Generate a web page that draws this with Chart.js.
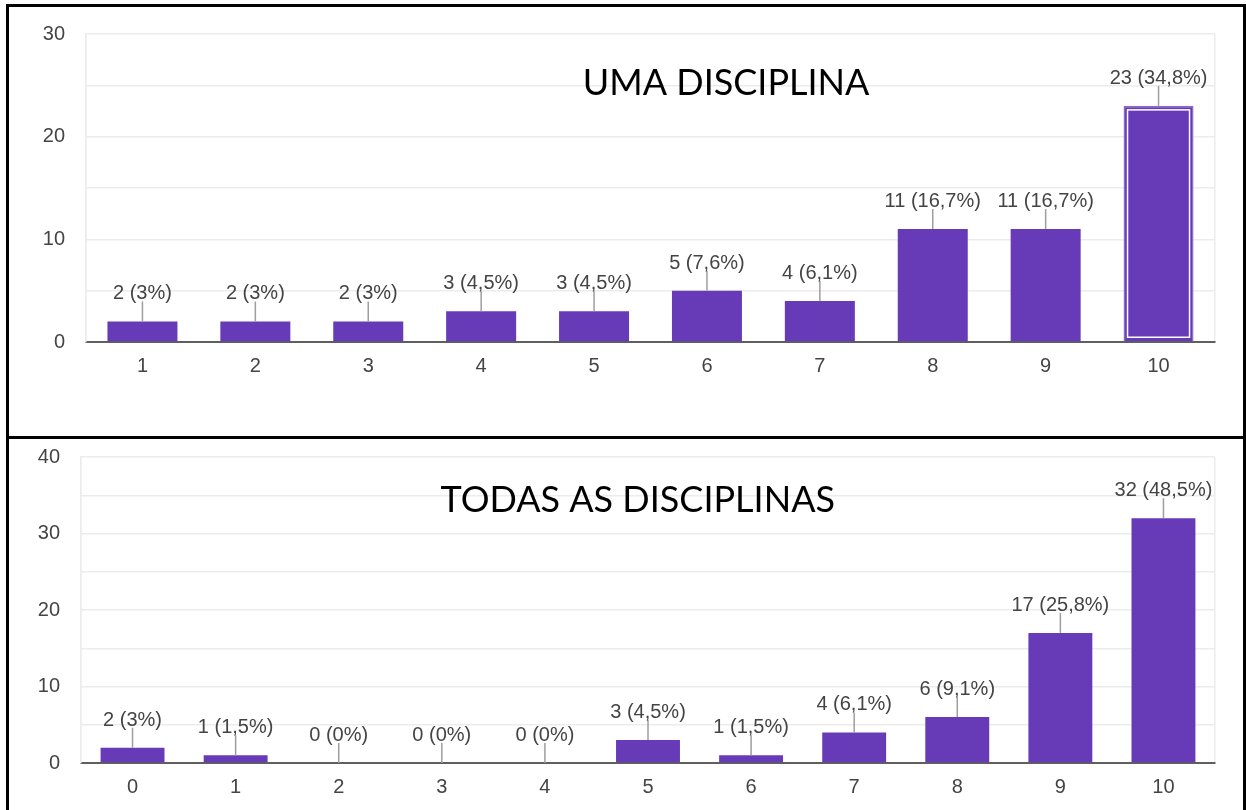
<!DOCTYPE html>
<html>
<head>
<meta charset="utf-8">
<script src="https://cdn.jsdelivr.net/npm/chart.js@4.4.0/dist/chart.umd.min.js"></script>
<style>
    html, body { margin: 0; padding: 0; background: #fff; width: 1246px; height: 810px; overflow: hidden; }
    canvas { position: absolute; left: 0; }
    #umaChart { top: 0; }
    #todasChart { top: 437px; }
    .frame { position: absolute; box-sizing: border-box; border: 3px solid #000; pointer-events: none; }
</style>
</head>
<body>
<canvas id="umaChart" width="1246" height="437"></canvas>
<canvas id="todasChart" width="1246" height="373"></canvas>
<div class="frame" style="left:6px; top:4px; width:1240px; height:435px;"></div>
<div class="frame" style="left:6px; top:436px; width:1240px; height:390px;"></div>
<script>
// dados
const umaLabels = ["1", "2", "3", "4", "5", "6", "7", "8", "9", "10"];
const umaValues = [2, 2, 2, 3, 3, 5, 4, 11, 11, 23];
const umaPercents = ["3%", "3%", "3%", "4,5%", "4,5%", "7,6%", "6,1%", "16,7%", "16,7%", "34,8%"];
const umaMax = 30;

const todasLabels = ["0", "1", "2", "3", "4", "5", "6", "7", "8", "9", "10"];
const todasValues = [2, 1, 0, 0, 0, 3, 1, 4, 6, 17, 32];
const todasPercents = ["3%", "1,5%", "0%", "0%", "0%", "4,5%", "1,5%", "6,1%", "9,1%", "25,8%", "48,5%"];
const todasMax = 40;

const purple = "#673ab7";
const tickFont = { family: "'Liberation Sans', Arial, sans-serif", size: 20 };

function buildChart(canvasId, labels, values, percents, yMax, layout) {
    const ctx = document.getElementById(canvasId).getContext("2d");

    const overlay = {
        id: "overlay",
        afterDatasetsDraw(chart) {
            const c = chart.ctx;
            const area = chart.chartArea;
            const meta = chart.getDatasetMeta(0);
            c.save();

            // título sobre a área do gráfico
            c.fillStyle = "#000";
            c.font = "36px Lato, 'Open Sans', sans-serif";
            c.textAlign = "center";
            c.textBaseline = "alphabetic";
            c.fillText(layout.title, area.left + area.width * layout.titleX, layout.titleY);

            meta.data.forEach((bar, i) => {
                if (layout.highlight === i) {
                    const w = bar.width;
                    c.strokeStyle = "#fff";
                    c.lineWidth = 1.5;
                    c.strokeRect(bar.x - w / 2 + 4, bar.y + 4, w - 8, bar.base - bar.y - 8);
                }
                c.strokeStyle = "#9e9e9e";
                c.lineWidth = 1.5;
                c.beginPath();
                c.moveTo(bar.x, bar.y);
                c.lineTo(bar.x, bar.y - 20);
                c.stroke();

                c.fillStyle = "#444";
                c.font = "20px 'Liberation Sans', Arial, sans-serif";
                c.fillText(`${values[i]} (${percents[i]})`, bar.x, bar.y - 22);
            });
            c.restore();
        },
    };

    return new Chart(ctx, {
        type: "bar",
        data: {
            labels: labels,
            datasets: [
                {
                    data: values,
                    backgroundColor: purple,
                    borderColor: values.map((v, i) => (i === layout.highlight ? "#8c6bc8" : purple)),
                    borderWidth: values.map((v, i) => (i === layout.highlight ? 1.5 : 0)),
                    categoryPercentage: 1,
                    barPercentage: 0.62,
                },
            ],
        },
        options: {
            responsive: false,
            animation: false,
            events: [],
            layout: {
                padding: { left: 0, top: layout.top, right: layout.right, bottom: 0 },
            },
            scales: {
                x: {
                    z: 1,
                    grid: {
                        drawTicks: false,
                        color: (c) => (c.index === 0 || c.type === "scale" ? "#ececec" : "rgba(0,0,0,0)"),
                        lineWidth: 1.5,
                    },
                    border: { color: "#5f5f5f", width: 2 },
                    ticks: { color: "#444", font: tickFont, padding: 12 },
                    afterFit: (scale) => {
                        scale.height = layout.xHeight;
                    },
                },
                y: {
                    min: 0,
                    max: yMax,
                    grid: {
                        color: "#ececec",
                        lineWidth: 1.5,
                        // marcas invisíveis: só afastam os rótulos do eixo
                        drawTicks: true,
                        tickLength: 21,
                        tickColor: "rgba(0,0,0,0)",
                    },
                    border: { color: "#ececec", width: 1.5 },
                    ticks: {
                        stepSize: 5,
                        color: "#444",
                        font: tickFont,
                        padding: 0,
                        callback: (value) => (value % 10 === 0 ? value : ""),
                    },
                    afterFit: (scale) => {
                        scale.width = layout.yWidth;
                    },
                },
            },
            plugins: {
                legend: { display: false },
                tooltip: { enabled: false },
                title: { display: false },
            },
        },
        plugins: [overlay],
    });
}

document.addEventListener("DOMContentLoaded", function () {
    buildChart("umaChart", umaLabels, umaValues, umaPercents, umaMax, {
        title: "UMA DISCIPLINA",
        titleX: 0.567,
        titleY: 95,
        highlight: 9,
        top: 34,
        right: 31,
        yWidth: 86,
        xHeight: 95,
    });

    buildChart("todasChart", todasLabels, todasValues, todasPercents, todasMax, {
        title: "TODAS AS DISCIPLINAS",
        titleX: 0.491,
        titleY: 75,
        highlight: -1,
        top: 20,
        right: 31,
        yWidth: 81,
        xHeight: 47,
    });
});
</script>
</body>
</html>
